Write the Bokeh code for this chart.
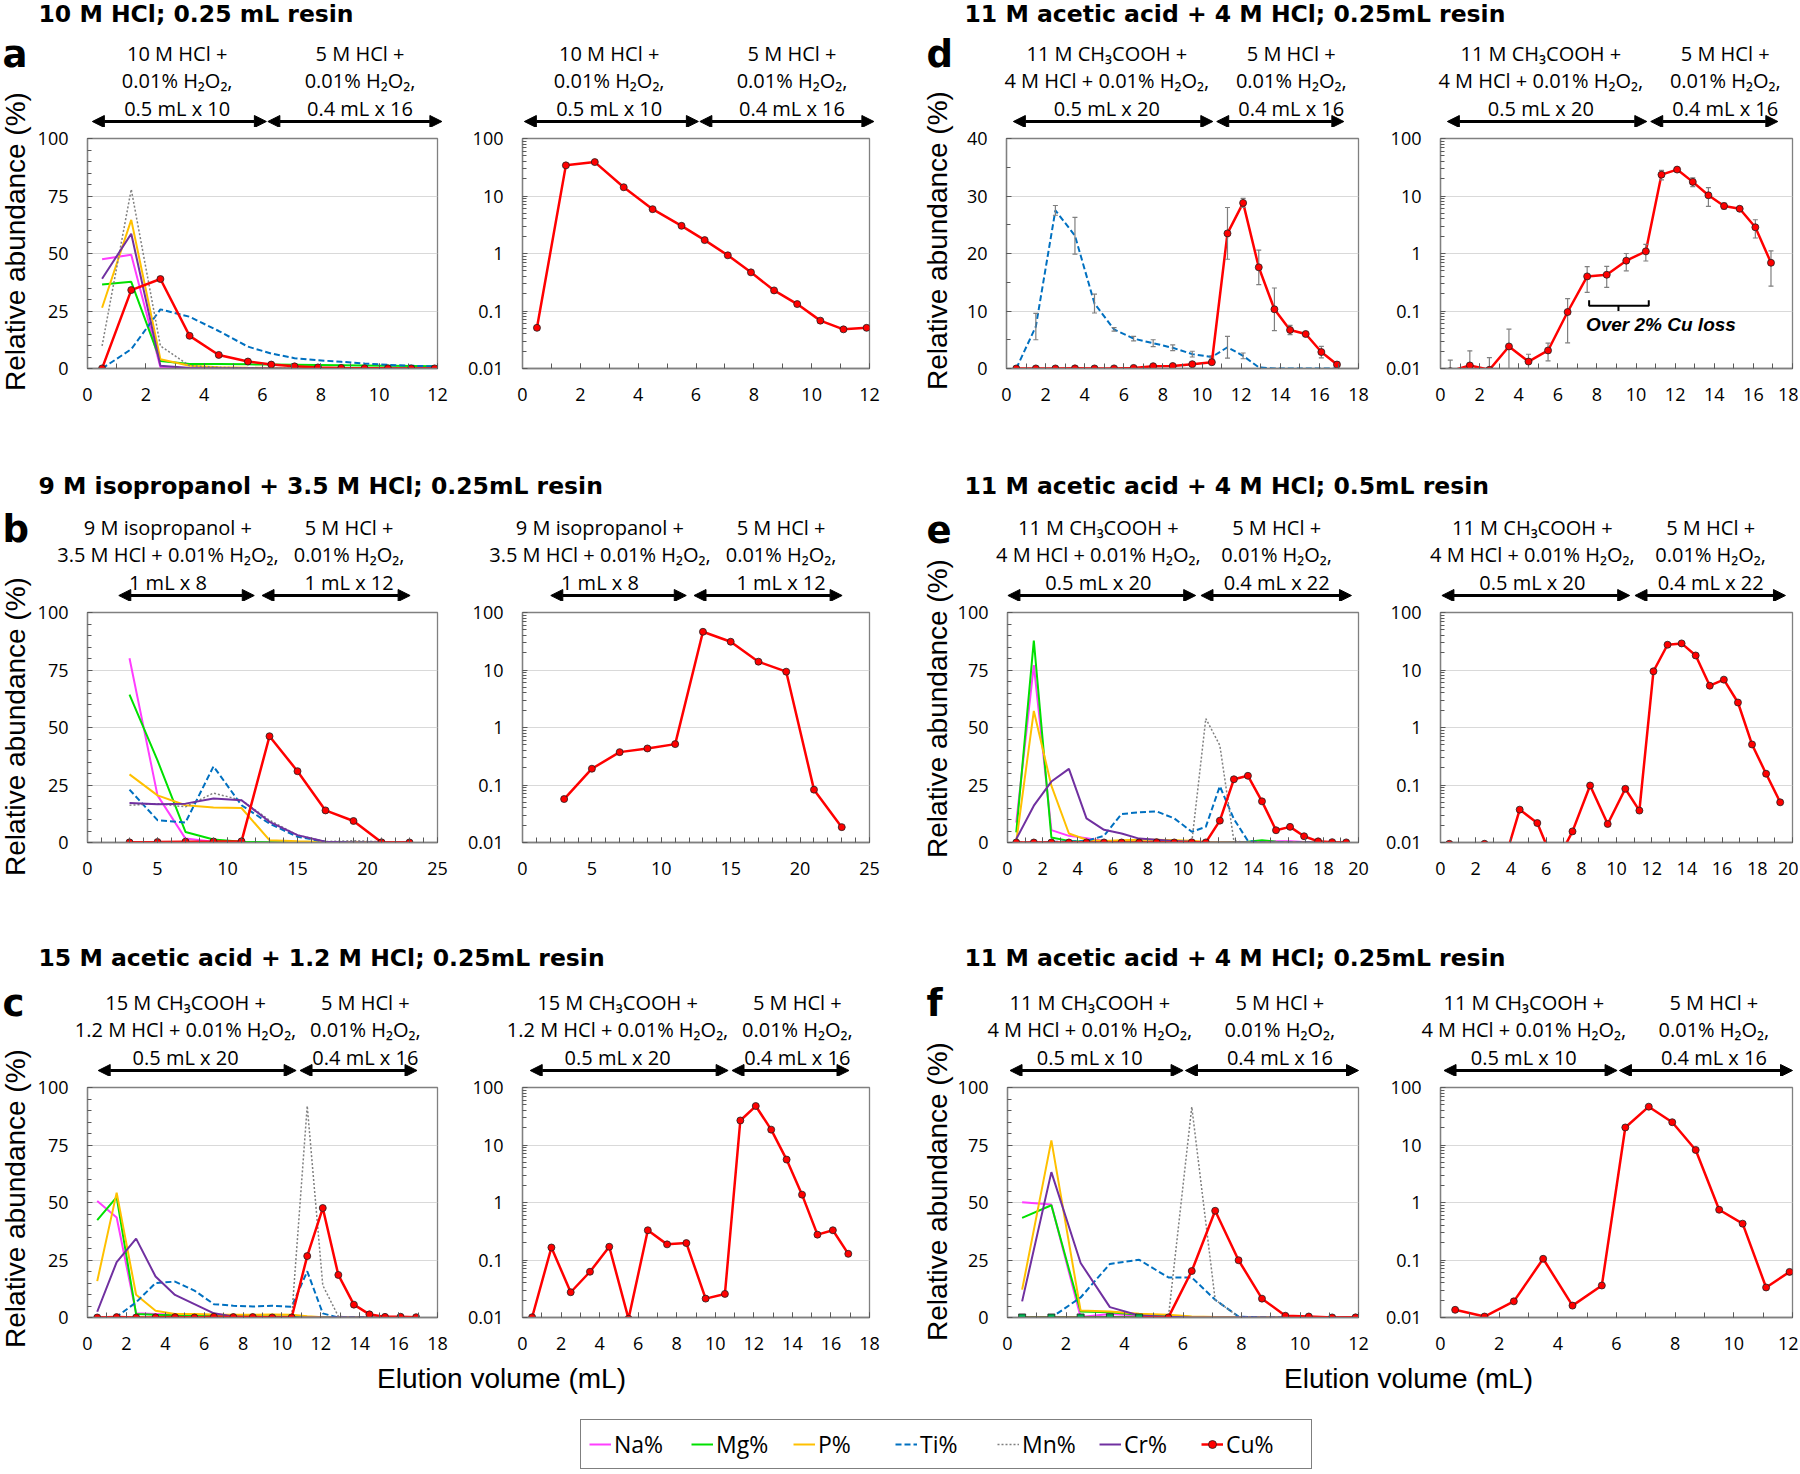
import math
from bokeh.plotting import figure
from bokeh.layouts import column, row
from bokeh.models import (Range1d, SingleIntervalTicker, FixedTicker, CustomJSTickFormatter,
                          Arrow, NormalHead, Legend, LegendItem)
from bokeh.core.properties import value
from bokeh.embed import file_html
from bokeh.resources import INLINE

# ------------------------------------------------------------------ data
# elution volume (mL) of each collected fraction
x_a = [0.5, 1.5, 2.5, 3.5, 4.5, 5.5, 6.3, 7.1, 7.9, 8.7, 9.5, 10.3, 11.1, 11.9]
x_b = [3, 5, 7, 9, 11, 13, 15, 17, 19, 21, 23]
x_c = [0.5, 1.5, 2.5, 3.5, 4.5, 5.5, 6.5, 7.5, 8.5, 9.5, 10.5, 11.3, 12.1, 12.9, 13.7, 14.5, 15.3, 16.1, 16.9]
x_d = [0.5, 1.5, 2.5, 3.5, 4.5, 5.5, 6.5, 7.5, 8.5, 9.5, 10.5, 11.3, 12.1, 12.9, 13.7, 14.5, 15.3, 16.1, 16.9]
x_e = [0.5, 1.5, 2.5, 3.5, 4.5, 5.5, 6.5, 7.5, 8.5, 9.5, 10.5, 11.3, 12.1, 12.9, 13.7, 14.5, 15.3, 16.1, 16.9, 17.7, 18.5, 19.3]
x_f = [0.5, 1.5, 2.5, 3.5, 4.5, 5.5, 6.3, 7.1, 7.9, 8.7, 9.5, 10.3, 11.1, 11.9]

# panel a : 10 M HCl
a_na = [47.5, 49.5, 0.5, 0.2, 0.1, 0.1, 0.05, 0.05, 0.05, 0.05, 0.05, 0.05, 0.05, 0.05]
a_mg = [36.5, 37.7, 3.3, 2.0, 2.0, 1.8, 1.7, 1.6, 1.5, 1.4, 1.3, 1.2, 1.1, 1.0]
a_p = [26.4, 64.6, 4.0, 1.2, 0.5, 0.3, 0.2, 0.1, 0.1, 0.1, 0.1, 0.1, 0.1, 0.1]
a_ti = [0.0, 8.4, 25.7, 22.5, 16.3, 9.5, 6.5, 4.5, 3.6, 2.9, 2.2, 1.6, 1.2, 0.9]
a_mn = [9.8, 77.9, 9.8, 1.2, 0.5, 0.2, 0.1, 0.1, 0.1, 0.1, 0.1, 0.1, 0.1, 0.1]
a_cr = [39.0, 58.6, 1.2, 0.2, 0.1, 0.1, 0.05, 0.05, 0.05, 0.05, 0.05, 0.05, 0.05, 0.05]
a_cu = [0.051, 34.1, 38.9, 14.2, 5.9, 3.03, 1.71, 0.93, 0.47, 0.228, 0.132, 0.068, 0.048, 0.051]

# panel b : 9 M isopropanol + 3.5 M HCl
b_na = [80.1, 20.5, 1.7, 0.3, 0.1, 0.1, 0.0, 0.0, 0.0, 0.0, 0.0]
b_mg = [64.3, 35.7, 4.6, 1.3, 0.3, 0.1, 0.1, 0.0, 0.0, 0.0, 0.0]
b_p = [29.6, 20.5, 16.2, 15.2, 15.0, 1.0, 0.5, 0.2, 0.2, 0.1, 0.1]
b_ti = [23.0, 9.7, 8.7, 33.1, 16.2, 8.2, 2.5, 0.3, 0.0, 0.0, 0.0]
b_mn = [16.2, 16.9, 15.5, 21.5, 18.4, 9.7, 3.2, 0.4, 0.8, 0.3, 0.0]
b_cr = [17.2, 16.6, 16.9, 19.1, 18.4, 9.0, 3.2, 0.3, 0.0, 0.0, 0.0]
b_cu = [0.057, 0.192, 0.373, 0.432, 0.514, 46.2, 31.0, 13.95, 9.35, 0.083, 0.0185]

# panel c : 15 M acetic acid + 1.2 M HCl
c_na = [50.7, 43.5, 1.8, 1.5, 1.2, 1.0, 0.8, 0.6, 0.5, 0.4, 0.3, 0.2, 0.1, 0.0, 0.0, 0.0, 0.0, 0.0, 0.0]
c_mg = [42.3, 52.3, 1.5, 1.2, 1.0, 1.0, 0.8, 0.6, 0.5, 0.4, 0.3, 0.2, 0.1, 0.0, 0.0, 0.0, 0.0, 0.0, 0.0]
c_p = [15.8, 54.3, 9.9, 2.9, 1.5, 1.5, 1.3, 1.2, 1.2, 1.3, 1.2, 0.5, 0.1, 0.0, 0.0, 0.0, 0.0, 0.0, 0.0]
c_ti = [0.0, 0.3, 6.6, 15.0, 15.6, 11.7, 5.8, 5.1, 4.8, 5.1, 4.7, 20.1, 1.8, 0.0, 0.0, 0.0, 0.0, 0.0, 0.0]
c_mn = [0.0, 0.0, 0.0, 0.0, 0.0, 0.0, 0.0, 0.0, 0.0, 0.0, 0.0, 92.0, 14.0, 0.5, 0.0, 0.0, 0.0, 0.0, 0.0]
c_cr = [2.5, 24.1, 34.3, 17.8, 9.8, 5.8, 1.8, 0.4, 0.0, 0.0, 0.0, 0.0, 0.0, 0.0, 0.0, 0.0, 0.0, 0.0, 0.0]
c_cu = [0.0101, 0.165, 0.0275, 0.0625, 0.17, 0.0095, 0.329, 0.187, 0.197, 0.0213, 0.0257,
        26.7, 47.6, 18.5, 5.58, 1.37, 0.276, 0.329, 0.128]

# panel d : 11 M acetic acid + 4 M HCl, 0.25 mL resin (mean +/- error)
d_ti = [0.0, 7.3, 27.5, 23.1, 11.3, 6.8, 5.2, 4.4, 3.6, 2.5, 2.0, 3.7, 2.2, 0.2, 0.0, 0.0, 0.0, 0.0, 0.0]
d_ti_err = [0.0, 2.3, 0.85, 3.2, 1.65, 0.3, 0.4, 0.6, 0.5, 0.5, 0.2, 1.9, 0.5, 0.0, 0.0, 0.0, 0.0, 0.0, 0.0]
d_cu = [0.009, 0.0113, 0.0095, 0.0242, 0.0132, 0.0206, 0.096, 0.40, 0.427, 0.75, 1.09,
        23.5, 28.8, 17.6, 10.3, 6.7, 6.0, 2.86, 0.69]
d_cu_err = [0.005, 0.009, 0.006, 0.024, 0.0045, 0.007, 0.068, 0.19, 0.17, 0.25, 0.35,
            4.5, 0.8, 3.0, 3.7, 0.8, 0.3, 1.0, 0.42]

# panel e : 11 M acetic acid + 4 M HCl, 0.5 mL resin
e_na = [8.7, 77.1, 5.4, 2.9, 1.9, 0.7, 0.3, 0.3, 0.3, 0.3, 0.3, 0.2, 0.2, 0.2, 0.2, 0.3, 0.5, 0.5, 0.2, 0.0, 0.0, 0.0]
e_mg = [4.4, 87.8, 2.2, 0.7, 0.3, 0.3, 0.3, 0.3, 0.3, 0.3, 0.2, 0.1, 0.1, 0.1, 0.3, 1.0, 0.3, 0.1, 0.0, 0.0, 0.0, 0.0]
e_p = [0.4, 57.2, 24.7, 3.9, 1.2, 0.7, 1.0, 1.2, 1.2, 1.0, 0.8, 0.2, 0.1, 0.0, 0.0, 0.0, 0.0, 0.0, 0.0, 0.0, 0.0, 0.0]
e_ti = [0.0, 0.0, 0.3, 0.4, 0.7, 2.9, 12.4, 13.1, 13.5, 10.5, 4.7, 6.8, 24.5, 10.2, 0.7, 0.0, 0.0, 0.0, 0.0, 0.0, 0.0, 0.0]
e_mn = [0.2, 0.2, 0.2, 0.2, 0.2, 0.2, 0.2, 0.2, 0.2, 0.2, 0.0, 53.9, 42.2, 0.7, 0.0, 0.0, 0.0, 0.0, 0.0, 0.0, 0.0, 0.0]
e_cr = [1.5, 16.0, 26.5, 32.0, 10.5, 5.5, 3.9, 1.7, 1.2, 0.7, 0.3, 0.0, 0.0, 0.0, 0.0, 0.0, 0.0, 0.0, 0.0, 0.0, 0.0, 0.0]
e_cu = [0.0095, 0.005, 0.0095, 0.0035, 0.0373, 0.0218, 0.004, 0.0156, 0.098, 0.021, 0.086,
        0.0359, 9.5, 27.5, 29.0, 17.9, 5.33, 6.8, 2.72, 0.507, 0.157, 0.050]

# panel f : 11 M acetic acid + 4 M HCl, 0.25 mL resin, 0.5 mL x 10
f_na = [50.1, 49.1, 0.2, 1.5, 0.9, 0.5, 0.1, 0.0, 0.0, 0.0, 0.0, 0.0, 0.0, 0.0]
f_mg = [43.3, 48.8, 2.6, 2.3, 1.2, 0.7, 0.2, 0.0, 0.0, 0.0, 0.0, 0.0, 0.0, 0.0]
f_p = [12.1, 77.0, 3.0, 2.6, 1.6, 1.2, 0.4, 0.2, 0.1, 0.1, 0.1, 0.0, 0.0, 0.0]
f_ti = [0.0, 0.0, 8.7, 23.3, 25.1, 17.4, 17.4, 7.7, 0.4, 0.0, 0.0, 0.0, 0.0, 0.0]
f_mn = [0.0, 0.0, 0.0, 0.0, 0.0, 0.0, 91.6, 7.7, 0.3, 0.0, 0.0, 0.0, 0.0, 0.0]
f_cr = [7.0, 63.2, 23.7, 4.5, 0.9, 0.3, 0.0, 0.0, 0.0, 0.0, 0.0, 0.0, 0.0, 0.0]
f_cu = [0.0136, 0.0104, 0.0191, 0.105, 0.0161, 0.036, 20.2, 46.4, 24.9, 8.2, 0.748, 0.429, 0.0333, 0.0621]
f_cu_green_markers = 5   # first Cu fractions drawn with green square markers in the linear plot

ELEMENTS = ["Na", "Mg", "P", "Ti", "Mn", "Cr", "Cu"]
LEGEND_LABELS = ["Na%", "Mg%", "P%", "Ti%", "Mn%", "Cr%", "Cu%"]

ROW_TITLES = [("10 M HCl; 0.25 mL resin", "11 M acetic acid + 4 M HCl; 0.25mL resin"),
              ("9 M isopropanol + 3.5 M HCl; 0.25mL resin", "11 M acetic acid + 4 M HCl; 0.5mL resin"),
              ("15 M acetic acid + 1.2 M HCl; 0.25mL resin", "11 M acetic acid + 4 M HCl; 0.25mL resin")]
ROW_LAYOUT = [("a", "d"), ("b", "e"), ("c", "f")]
Y_LABEL = "Relative abundance (%)"
X_LABEL = "Elution volume (mL)"

H2O2 = "0.01% H\u2082O\u2082,"
ACETIC = "11 M CH\u2083COOH +"
PANELS = {
    "a": dict(x=x_a, xr=(0, 12), xint=2, xminor=2, ymax=100, yint=25, yminor=5,
              series={"Na": a_na, "Mg": a_mg, "P": a_p, "Ti": a_ti, "Mn": a_mn, "Cr": a_cr}, cu=a_cu,
              hdr=(["10 M HCl +", H2O2, "0.5 mL x 10"], ["5 M HCl +", H2O2, "0.4 mL x 16"]),
              hdr_cx=(3.1, 9.35), arrows=((0.2, 6.15), (6.2, 12.15))),
    "b": dict(x=x_b, xr=(0, 25), xint=5, xminor=5, ymax=100, yint=25, yminor=5,
              series={"Na": b_na, "Mg": b_mg, "P": b_p, "Ti": b_ti, "Mn": b_mn, "Cr": b_cr}, cu=b_cu,
              hdr=(["9 M isopropanol +", "3.5 M HCl + " + H2O2, "1 mL x 8"], ["5 M HCl +", H2O2, "1 mL x 12"]),
              hdr_cx=(5.8, 18.7), arrows=((2.3, 11.95), (12.5, 23.05))),
    "c": dict(x=x_c, xr=(0, 18), xint=2, xminor=2, ymax=100, yint=25, yminor=5,
              series={"Na": c_na, "Mg": c_mg, "P": c_p, "Ti": c_ti, "Mn": c_mn, "Cr": c_cr}, cu=c_cu,
              hdr=(["15 M CH\u2083COOH +", "1.2 M HCl + " + H2O2, "0.5 mL x 20"], ["5 M HCl +", H2O2, "0.4 mL x 16"]),
              hdr_cx=(5.08, 14.3), arrows=((0.6, 10.75), (10.95, 16.95))),
    "d": dict(x=x_d, xr=(0, 18), xint=2, xminor=2, ymax=40, yint=10, yminor=2,
              series={"Ti": d_ti}, ti_err=d_ti_err, cu=d_cu, cu_err=d_cu_err,
              hdr=([ACETIC, "4 M HCl + " + H2O2, "0.5 mL x 20"], ["5 M HCl +", H2O2, "0.4 mL x 16"]),
              hdr_cx=(5.13, 14.56), arrows=((0.35, 10.55), (10.75, 17.25))),
    "e": dict(x=x_e, xr=(0, 20), xint=2, xminor=2, ymax=100, yint=25, yminor=5,
              series={"Na": e_na, "Mg": e_mg, "P": e_p, "Ti": e_ti, "Mn": e_mn, "Cr": e_cr}, cu=e_cu,
              hdr=([ACETIC, "4 M HCl + " + H2O2, "0.5 mL x 20"], ["5 M HCl +", H2O2, "0.4 mL x 22"]),
              hdr_cx=(5.22, 15.35), arrows=((0.08, 10.75), (11.05, 19.6))),
    "f": dict(x=x_f, xr=(0, 12), xint=2, xminor=2, ymax=100, yint=25, yminor=5,
              series={"Na": f_na, "Mg": f_mg, "P": f_p, "Ti": f_ti, "Mn": f_mn, "Cr": f_cr}, cu=f_cu,
              green_first=f_cu_green_markers,
              hdr=([ACETIC, "4 M HCl + " + H2O2, "0.5 mL x 10"], ["5 M HCl +", H2O2, "0.4 mL x 16"]),
              hdr_cx=(2.84, 9.32), arrows=((0.12, 6.02), (6.1, 12.0))),
}
# "Over 2% Cu loss" bracket (panel d, log plot)
NOTE_TEXT = "Over 2% Cu loss"
BRACKET_X = (7.6, 10.65)
BRACKET_Y = (0.123, 0.154)
BRACKET_TICK = (9.1, 0.100)
NOTE_XY = (11.27, 0.0587)

# ------------------------------------------------------------------ styles / layout
STYLE = {
    "Na": dict(line_color="#FF3DFF", line_width=2.0),
    "Mg": dict(line_color="#00E000", line_width=2.0),
    "P": dict(line_color="#FFC000", line_width=2.0),
    "Ti": dict(line_color="#0070C0", line_width=2.0, line_dash="6 3"),
    "Mn": dict(line_color="#7F7F7F", line_width=1.5, line_dash="2 2"),
    "Cr": dict(line_color="#7030A0", line_width=2.0),
    "Cu": dict(line_color="#FF0000", line_width=2.5),
}
CU_MARK = dict(size=7, fill_color="#FF0000", line_color="#202020", line_width=0.8)
FRAME = "#808080"
TICKC = "#595959"
F_CAL = "Open Sans"
F_ARIAL = "Liberation Sans"
F_TITLE = "DejaVu Sans"

HALF_X = [0, 900]          # left edge of the left / right half of the page
YL_W = [34, 54]            # strip holding panel letter + y label
FIG_W = [430, 436, 418, 426]
LB = [52, 54, 52, 68]
RB = [27, 31, 14, 6]
HDR_TOP = [0, 426, 902]
HDR_H = [127, 175, 174]
PANEL_H = [299, 301, 286]
TB = 11
BB = [58, 60, 45]
TITLE_CY = [13.5, 485.5, 957.5]
TITLE_X = [38, 964]
LETTER_CY = [54, 529, 1003]
LETTER_X = [2, 926]
LINE_CY = [[52.5, 80, 107.5], [526.5, 554, 581.5], [1001.5, 1029, 1056.5]]
ARROW_CY = [121, 595, 1070]
YLAB_CY = [[241, 726, 1198], [240, 708, 1191]]
YLAB_X = [15, 937]
FOOT_TOP = 1362
FOOT_H = 108
XLAB_X = [501, 1408]
XLAB_CY = 1378

LOG_MAJOR = [0.01, 0.1, 1, 10, 100]
LOG_MINOR = [k * 10.0 ** e for e in (-2, -1, 0, 1) for k in range(2, 10)]


def frame_left(col):
    h = col // 2
    return HALF_X[h] + YL_W[h] + sum(FIG_W[2 * h:col]) + LB[col]


def frame_w(col):
    return FIG_W[col] - LB[col] - RB[col]


def img_x(col, xr, x):
    return frame_left(col) + (x - xr[0]) / (xr[1] - xr[0]) * frame_w(col)


def plain_fig(left, top, w, h):
    """figure whose data coordinates are page pixels (x to the right, y upward)"""
    p = figure(width=w, height=h, x_range=Range1d(left, left + w), y_range=Range1d(-(top + h), -top),
               min_border=0, x_axis_location=None, y_axis_location=None,
               output_backend="svg", toolbar_location=None)
    p.outline_line_color = None
    p.background_fill_color = "white"
    p.border_fill_color = "white"
    for gr in list(p.xgrid) + list(p.ygrid):
        gr.visible = False
    return p


def errbars(p, x, y, e, log):
    xs, lo, hi = [], [], []
    for xi, yi, ei in zip(x, y, e):
        if ei > 0:
            xs.append(xi)
            hi.append(yi + ei)
            lo.append(max(yi - ei, 1e-4 if log else 0.0))
    p.segment(xs, lo, xs, hi, line_color="#7F7F7F", line_width=1.2)
    p.scatter(xs, hi, marker="dash", size=5, line_color="#7F7F7F", line_width=1.2)
    p.scatter(xs, lo, marker="dash", size=5, line_color="#7F7F7F", line_width=1.2)


def build_panel(key, col, r, log):
    P = PANELS[key]
    xr = P["xr"]
    yr = (0.01, 100) if log else (0, P["ymax"])
    p = figure(width=FIG_W[col], height=PANEL_H[r],
               min_border_left=LB[col], min_border_right=RB[col],
               min_border_top=TB, min_border_bottom=BB[r],
               x_range=Range1d(*xr), y_range=Range1d(*yr),
               y_axis_type="log" if log else "linear",
               output_backend="svg", toolbar_location=None)
    p.outline_line_color = FRAME
    p.outline_line_width = 1.3
    p.background_fill_color = "white"
    p.border_fill_color = "white"
    xa = p.xaxis[0]
    ya = p.yaxis[0]
    xa.ticker = SingleIntervalTicker(interval=P["xint"], num_minor_ticks=P["xminor"])
    if log:
        ya.ticker = FixedTicker(ticks=LOG_MAJOR, minor_ticks=LOG_MINOR)
        ya.formatter = CustomJSTickFormatter(code="return tick.toString();")
        p.ygrid[0].ticker = FixedTicker(ticks=[0.1, 1, 10])
    else:
        ya.ticker = SingleIntervalTicker(interval=P["yint"], num_minor_ticks=P["yminor"])
        p.ygrid[0].ticker = FixedTicker(ticks=list(range(P["yint"], P["ymax"], P["yint"])))
    p.xgrid[0].visible = False
    p.ygrid[0].grid_line_color = "#D9D9D9"
    p.ygrid[0].grid_line_width = 1
    for ax in (xa, ya):
        ax.axis_line_color = FRAME
        ax.axis_line_width = 1.3
        ax.major_tick_in = 5
        ax.major_tick_out = 0
        ax.minor_tick_in = 4
        ax.minor_tick_out = 0
        ax.major_tick_line_color = TICKC
        ax.minor_tick_line_color = TICKC
        ax.major_label_text_font = F_CAL
        ax.major_label_text_font_size = "18px"
        ax.major_label_text_color = "#000000"
    xa.minor_tick_in = 5
    xa.major_label_standoff = 19
    ya.major_label_standoff = 19

    x = P["x"]
    if not log:
        for name in ["Na", "Mg", "P", "Ti", "Mn", "Cr"]:
            if name in P["series"]:
                p.line(x, P["series"][name], **STYLE[name])
        if "ti_err" in P:
            errbars(p, x, P["series"]["Ti"], P["ti_err"], False)
    p.line(x, P["cu"], **STYLE["Cu"])
    if "cu_err" in P:
        errbars(p, x, P["cu"], P["cu_err"], log)
    g = P.get("green_first", 0) if not log else 0
    if g:
        p.line(x[:g], P["cu"][:g], line_color="#00B050", line_width=2.0)
        p.scatter(x[:g], P["cu"][:g], marker="square", size=7, fill_color="#00B050",
                  line_color="#202020", line_width=0.8)
    p.scatter(x[g:], P["cu"][g:], **CU_MARK)

    if key == "d" and log:
        p.line([BRACKET_X[0], BRACKET_X[0], BRACKET_X[1], BRACKET_X[1]],
               [BRACKET_Y[1], BRACKET_Y[0], BRACKET_Y[0], BRACKET_Y[1]],
               line_color="black", line_width=2)
        p.line([BRACKET_TICK[0], BRACKET_TICK[0]], [BRACKET_Y[0], BRACKET_TICK[1]],
               line_color="black", line_width=2)
        p.text(x=[NOTE_XY[0]], y=[NOTE_XY[1]], text=[NOTE_TEXT], text_font=value(F_ARIAL),
               text_font_style="bold italic", text_font_size="19px", text_align="center",
               text_baseline="middle", text_color="#000000")
    return p


def build_ylab(half, r):
    top = HDR_TOP[r]
    h = HDR_H[r] + PANEL_H[r]
    left = HALF_X[half]
    p = plain_fig(left, top, YL_W[half], h)
    key = ROW_LAYOUT[r][half]
    p.text(x=[LETTER_X[half]], y=[-LETTER_CY[r]], text=[key], text_font=value(F_TITLE),
           text_font_style="bold", text_font_size="37px", text_align="left",
           text_baseline="middle", text_color="#000000")
    p.text(x=[YLAB_X[half]], y=[-YLAB_CY[half][r]], text=[Y_LABEL], angle=math.pi / 2,
           text_font=value(F_ARIAL), text_font_size="28px", text_align="center",
           text_baseline="middle", text_color="#000000")
    return p


def build_header(half, r):
    top = HDR_TOP[r]
    left = HALF_X[half] + YL_W[half]
    w = FIG_W[2 * half] + FIG_W[2 * half + 1]
    p = plain_fig(left, top, w, HDR_H[r])
    p.text(x=[TITLE_X[half]], y=[-TITLE_CY[r]], text=[ROW_TITLES[r][half]],
           text_font=value(F_TITLE), text_font_style="bold", text_font_size="23.5px",
           text_align="left", text_baseline="middle", text_color="#000000")
    key = ROW_LAYOUT[r][half]
    P = PANELS[key]
    for sub in range(2):
        col = 2 * half + sub
        for gi, lines in enumerate(P["hdr"]):
            cx = img_x(col, P["xr"], P["hdr_cx"][gi])
            p.text(x=[cx] * 3, y=[-c for c in LINE_CY[r]], text=lines,
                   text_font=value(F_CAL), text_font_size="20px", text_align="center",
                   text_baseline="middle", text_color="#000000")
        for (x0, x1) in P["arrows"]:
            p.add_layout(Arrow(
                start=NormalHead(size=12, fill_color="black", line_color="black", line_width=1),
                end=NormalHead(size=12, fill_color="black", line_color="black", line_width=1),
                x_start=img_x(col, P["xr"], x0), y_start=-ARROW_CY[r],
                x_end=img_x(col, P["xr"], x1), y_end=-ARROW_CY[r],
                line_color="black", line_width=3))
    return p


def build_footer():
    W = sum(YL_W) + sum(FIG_W)
    p = plain_fig(0, FOOT_TOP, W, FOOT_H)
    p.text(x=XLAB_X, y=[-XLAB_CY] * 2, text=[X_LABEL] * 2,
           text_font=value(F_ARIAL), text_font_size="28px", text_align="center",
           text_baseline="middle", text_color="#000000")
    items = []
    hidden_x = [-60, -40]      # legend swatch renderers are kept outside the visible range
    hidden_y = [0, 0]
    for name, lab in zip(ELEMENTS, LEGEND_LABELS):
        rs = [p.line(hidden_x, hidden_y, **STYLE[name])]
        if name == "Cu":
            rs.append(p.scatter(hidden_x[:1], hidden_y[:1], **CU_MARK))
        items.append(LegendItem(label=lab, renderers=rs))
    leg = Legend(items=items, orientation="horizontal", location=(580, 1),
                 padding=8, spacing=0, margin=0, label_standoff=3,
                 glyph_width=22, glyph_height=20, label_width=77, label_height=20,
                 label_text_font=F_CAL, label_text_font_size="23px", label_text_color="#000000",
                 border_line_color="#000000", border_line_width=1,
                 background_fill_color="white", background_fill_alpha=1.0)
    p.add_layout(leg)
    return p


children = []
for r, (lk, rk) in enumerate(ROW_LAYOUT):
    left_block = column(build_header(0, r),
                        row(build_panel(lk, 0, r, False), build_panel(lk, 1, r, True)))
    right_block = column(build_header(1, r),
                         row(build_panel(rk, 2, r, False), build_panel(rk, 3, r, True)))
    children.append(row(build_ylab(0, r), left_block, build_ylab(1, r), right_block))
children.append(build_footer())
layout = column(*children)

open("out.html", "w").write(file_html(layout, INLINE))
